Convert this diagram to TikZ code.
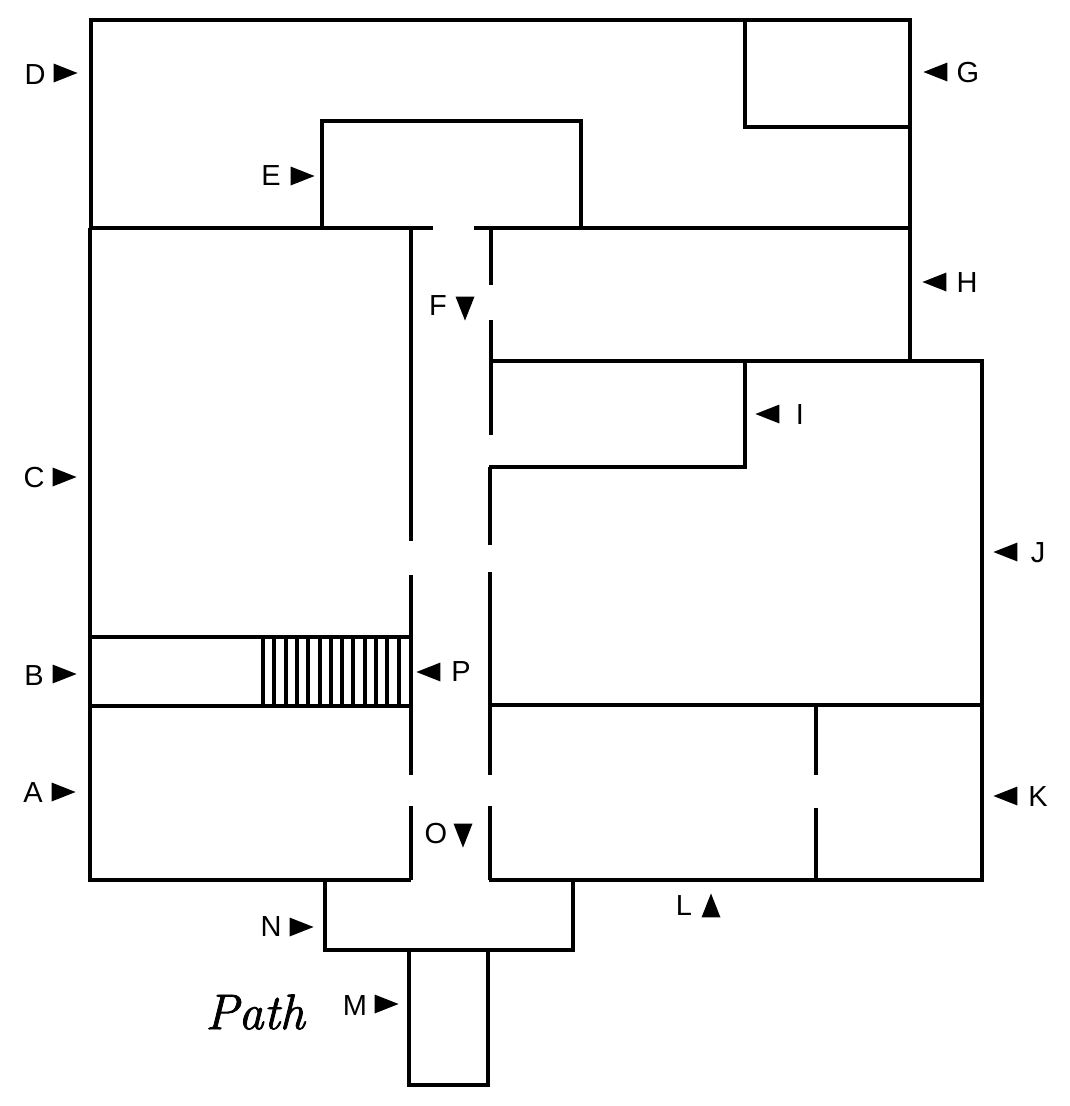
\documentclass[tikz,border=0pt]{standalone}
\usepackage{fontspec}
\setmainfont{Liberation Sans}
\newfontfamily\handfont[ItalicFeatures={FakeBold=1.6}]{Latin Modern Roman}
\usetikzlibrary{shapes.geometric}
\tikzset{
	wall/.style={draw=black, line width=3.4pt, line cap=butt, line join=miter},
	tread/.style={draw=black, line width=4pt},
	letter/.style={inner sep=0pt, font=\fontsize{29}{31}\selectfont},
	marker/.style={isosceles triangle, isosceles triangle apex angle=74, isosceles triangle stretches, fill=black, inner sep=0pt, minimum height=24pt, minimum width=19pt},
	markerright/.style={marker, shape border rotate=0, xshift=-6pt},
	markerleft/.style={marker, shape border rotate=180, xshift=6pt},
	markerdown/.style={marker, shape border rotate=270, yshift=6pt},
	markerup/.style={marker, shape border rotate=90, yshift=-6pt}
}
\begin{document}
\begin{tikzpicture}[x=1pt, y=-1pt]
	\useasboundingbox (0,0) rectangle (1069,1106);
	% upper block
	\path[wall] (91,228)--(91,20)--(910,20)--(910,361);
	\path[wall] (745,20)--(745,127)--(910,127);
	\path[wall] (322,228)--(322,121)--(581,121)--(581,228);
	\path[wall] (90,228)--(433,228);
	\path[wall] (474,228)--(910,228);
	% left block
	\path[wall] (90,228)--(90,880)--(411,880);
	\path[wall] (90,637)--(411,637);
	\path[wall] (90,706)--(411,706);
	% corridor, left side
	\path[wall] (411,228)--(411,541);
	\path[wall] (411,575)--(411,775);
	\path[wall] (411,806)--(411,880);
	% corridor, right side
	\path[wall] (491,228)--(491,285);
	\path[wall] (491,320)--(491,435);
	\path[wall] (490,467)--(490,545);
	\path[wall] (490,572)--(490,775);
	\path[wall] (490,806)--(490,880);
	% right block
	\path[wall] (491,361)--(982,361)--(982,880)--(489,880);
	\path[wall] (745,361)--(745,467)--(489,467);
	\path[wall] (490,705)--(982,705);
	\path[wall] (816,705)--(816,775);
	\path[wall] (816,808)--(816,880);
	% entrance
	\path[wall] (325,880)--(325,950)--(573,950)--(573,880);
	\path[wall] (409,950)--(409,1085)--(488,1085)--(488,950);
	% stairs
	\foreach \tx in {263,274.3,...,400}
		\path[tread] (\tx,637)--(\tx,706);
	% view points
	\node[letter] (labelD) at (35,75) {D};
	\node[markerright] (markD) at (66,73) {};
	\node[letter] (labelG) at (968,73) {G};
	\node[markerleft] (markG) at (935,72) {};
	\node[letter] (labelE) at (271,176) {E};
	\node[markerright] (markE) at (303,176) {};
	\node[letter] (labelF) at (438,306) {F};
	\node[markerdown] (markF) at (465,309) {};
	\node[letter] (labelH) at (967,283) {H};
	\node[markerleft] (markH) at (934,282) {};
	\node[letter] (labelC) at (34,478) {C};
	\node[markerright] (markC) at (65,477) {};
	\node[letter] (labelI) at (800,415) {I};
	\node[markerleft] (markI) at (767,414) {};
	\node[letter] (labelJ) at (1038,553) {J};
	\node[markerleft] (markJ) at (1005,552) {};
	\node[letter] (labelP) at (461,672) {P};
	\node[markerleft] (markP) at (428,672) {};
	\node[letter] (labelB) at (34,676) {B};
	\node[markerright] (markB) at (65,674) {};
	\node[letter] (labelA) at (33,793) {A};
	\node[markerright] (markA) at (64,792) {};
	\node[letter] (labelK) at (1038,797) {K};
	\node[markerleft] (markK) at (1005,796) {};
	\node[letter] (labelO) at (436,834) {O};
	\node[markerdown] (markO) at (463,836) {};
	\node[letter] (labelL) at (684,906) {L};
	\node[markerup] (markL) at (711,905) {};
	\node[letter] (labelN) at (271,927) {N};
	\node[markerright] (markN) at (302,927) {};
	\node[letter] (labelM) at (355,1006) {M};
	\node[markerright] (markM) at (387,1004) {};
	\node[inner sep=0pt, font=\handfont\itshape\fontsize{50}{52}\selectfont] (labelPath) at (255,1012) {Path};
\end{tikzpicture}
\end{document}
